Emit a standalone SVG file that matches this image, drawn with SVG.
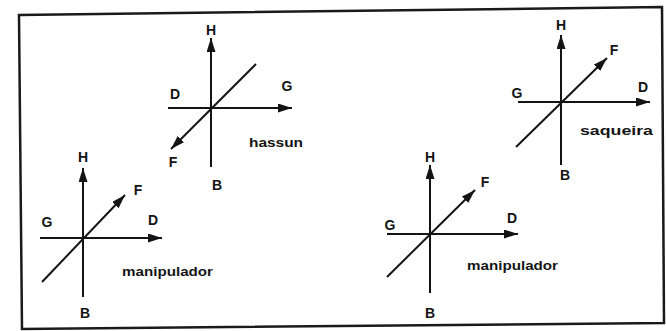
<svg xmlns="http://www.w3.org/2000/svg" width="666" height="331" viewBox="0 0 666 331">
<style>
.ax{stroke:#141414;stroke-width:2;fill:none}
.ar{marker-end:url(#ah)}
.lb{font-family:"Liberation Sans",Arial,sans-serif;font-weight:bold;font-size:14px;fill:#141414;text-anchor:middle}
.nm{font-family:"Liberation Sans",Arial,sans-serif;font-weight:bold;font-size:13px;fill:#141414}
</style>
<defs>
<marker id="ah" markerUnits="userSpaceOnUse" markerWidth="15" markerHeight="10" refX="14" refY="4.5" orient="auto">
<path d="M0,0 L14,4.5 L0,9 z" fill="#141414"/>
</marker>
</defs>
<rect width="666" height="331" fill="#ffffff"/>
<polygon id="frame" points="19,15 662,7 664,323 22,329" fill="none" stroke="#1a1a1a" stroke-width="2.5"/>
<g id="connectors">
<!-- hassun -->
<line class="ax ar" x1="211" y1="167" x2="211" y2="38"/>
<line class="ax ar" x1="168" y1="108" x2="292" y2="108"/>
<line class="ax ar" x1="256" y1="64" x2="171" y2="149"/>
<!-- left manipulador -->
<line class="ax ar" x1="83" y1="297" x2="83" y2="168"/>
<line class="ax ar" x1="40" y1="238" x2="162" y2="238"/>
<line class="ax ar" x1="42" y1="282" x2="125" y2="195"/>
<!-- right manipulador -->
<line class="ax ar" x1="430" y1="293" x2="430" y2="165"/>
<line class="ax ar" x1="387" y1="234" x2="518" y2="234"/>
<line class="ax ar" x1="387" y1="277" x2="475" y2="190"/>
<!-- saqueira -->
<line class="ax ar" x1="561" y1="165" x2="561" y2="35"/>
<line class="ax ar" x1="518" y1="102" x2="650" y2="102"/>
<line class="ax ar" x1="516" y1="147" x2="607" y2="58"/>
</g>
<g id="hassun">
<text class="lb" x="211" y="35">H</text>
<text class="lb" x="175" y="99">D</text>
<text class="lb" x="287" y="91">G</text>
<text class="lb" x="173" y="167">F</text>
<text class="lb" x="217" y="190">B</text>
<text class="nm" x="249" y="147" textLength="54" lengthAdjust="spacingAndGlyphs">hassun</text>
</g>
<g id="manipulador-left">
<text class="lb" x="83" y="162">H</text>
<text class="lb" x="47" y="227">G</text>
<text class="lb" x="153" y="225">D</text>
<text class="lb" x="138" y="195">F</text>
<text class="lb" x="85" y="318">B</text>
<text class="nm" x="122" y="276" textLength="91" lengthAdjust="spacingAndGlyphs">manipulador</text>
</g>
<g id="manipulador-right">
<text class="lb" x="430" y="162">H</text>
<text class="lb" x="390" y="230">G</text>
<text class="lb" x="512" y="223">D</text>
<text class="lb" x="485" y="187">F</text>
<text class="lb" x="430" y="318">B</text>
<text class="nm" x="467" y="270" textLength="91" lengthAdjust="spacingAndGlyphs">manipulador</text>
</g>
<g id="saqueira">
<text class="lb" x="561" y="30">H</text>
<text class="lb" x="517" y="98">G</text>
<text class="lb" x="643" y="92">D</text>
<text class="lb" x="614" y="55">F</text>
<text class="lb" x="565" y="180">B</text>
<text class="nm" x="580" y="135" textLength="73" lengthAdjust="spacingAndGlyphs">saqueira</text>
</g>
</svg>
